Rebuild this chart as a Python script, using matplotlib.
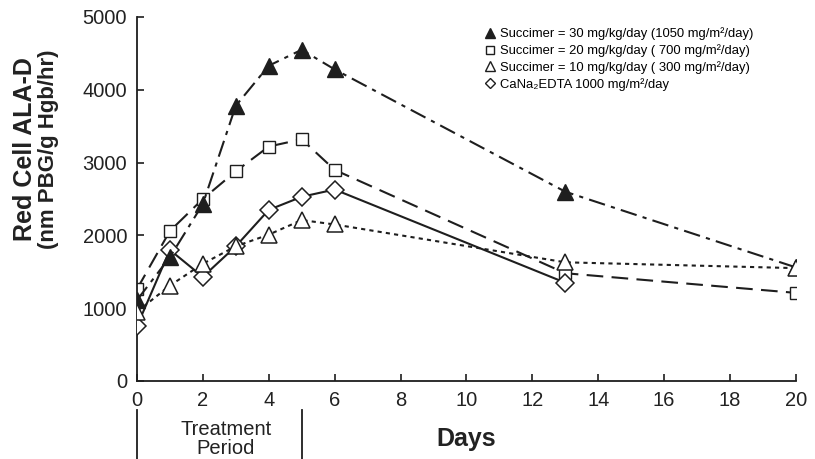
import matplotlib
matplotlib.use("Agg")
import matplotlib.pyplot as plt
import matplotlib.transforms as mtransforms
from matplotlib.lines import Line2D

plt.rcParams['font.family'] = ['Liberation Sans', 'DejaVu Sans']

# days sampled per series
days_main = [0, 1, 2, 3, 4, 5, 6, 13, 20]
days_edta = [0, 1, 2, 3, 4, 5, 6, 13]

# red cell ALA-D values
succ30 = [1110, 1700, 2430, 3780, 4330, 4550, 4280, 2600, 1560]
succ20 = [1260, 2060, 2500, 2880, 3220, 3320, 2900, 1480, 1210]
succ10 = [950, 1310, 1610, 1850, 2010, 2210, 2150, 1630, 1550]
edta = [750, 1800, 1430, 1850, 2350, 2530, 2630, 1350]

labels = ['Succimer = 30 mg/kg/day (1050 mg/m\u00b2/day)',
          'Succimer = 20 mg/kg/day ( 700 mg/m\u00b2/day)',
          'Succimer = 10 mg/kg/day ( 300 mg/m\u00b2/day)',
          'CaNa\u2082EDTA 1000 mg/m\u00b2/day']

ink = '#1e1e1e'

fig = plt.figure(figsize=(8.15, 4.59), dpi=100)
ax = fig.add_axes([0.168, 0.170, 0.8086, 0.793])

# stacking: squares lowest, filled triangles over them, open triangles on top
ax.plot(days_main, succ20, color=ink, lw=1.5, ls=(0, (8, 4)), marker='s', ms=9,
        mfc='white', mec=ink, mew=1.0, zorder=2)
ax.plot(days_edta, edta, color=ink, lw=1.5, ls='-', marker='D', ms=9,
        mfc='white', mec=ink, mew=1.1, zorder=3)
ax.plot(days_main, succ30, color=ink, lw=1.5, ls=(0, (8, 3, 2, 3)), marker='^', ms=11,
        mfc=ink, mec=ink, zorder=3.5)
ax.plot(days_main, succ10, color=ink, lw=1.5, ls=(0, (2, 2)), marker='^', ms=11,
        mfc='white', mec=ink, mew=1.1, zorder=4)

ax.set_xlim(0, 20)
ax.set_ylim(0, 5000)
ax.set_xticks(range(0, 21, 2))
ax.set_yticks(range(0, 5001, 1000))
for s in ['top', 'right']:
    ax.spines[s].set_visible(False)
for s in ['left', 'bottom']:
    ax.spines[s].set_color(ink)
    ax.spines[s].set_linewidth(1.3)
ax.tick_params(direction='in', length=5, width=1.2, color=ink, labelsize=14.5,
               labelcolor='#222222', pad=7)

# two-line y label, first line a little larger
fig.text(0.031, 0.675, 'Red Cell ALA-D', rotation=90, ha='center', va='center',
         fontsize=18, fontweight='bold', color='#222222')
fig.text(0.060, 0.675, '(nm PBG/g Hgb/hr)', rotation=90, ha='center', va='center',
         fontsize=16, fontweight='bold', color='#222222')

trans = mtransforms.blended_transform_factory(ax.transData, ax.transAxes)
for d in [0, 5]:
    ax.plot([d, d], [-0.08, -0.22], color=ink, lw=1.3, transform=trans, clip_on=False)
ax.text(2.7, -0.16, 'Treatment\nPeriod', transform=trans, ha='center', va='center',
        fontsize=14.5, color='#222222', linespacing=1.0)
ax.text(10.0, -0.16, 'Days', transform=trans, ha='center', va='center',
        fontsize=18, fontweight='bold', color='#222222')

handles = [Line2D([], [], ls='none', marker='^', ms=7, mfc=ink, mec=ink),
           Line2D([], [], ls='none', marker='s', ms=6, mfc='white', mec=ink),
           Line2D([], [], ls='none', marker='^', ms=7, mfc='white', mec=ink),
           Line2D([], [], ls='none', marker='D', ms=5.5, mfc='white', mec=ink)]
ax.legend(handles, labels, loc='upper left', bbox_to_anchor=(0.52, 0.985),
          frameon=False, fontsize=9.4, handlelength=0.8, handletextpad=0.4,
          labelspacing=0.3, borderaxespad=0)

fig.savefig('out.png', dpi=100)
